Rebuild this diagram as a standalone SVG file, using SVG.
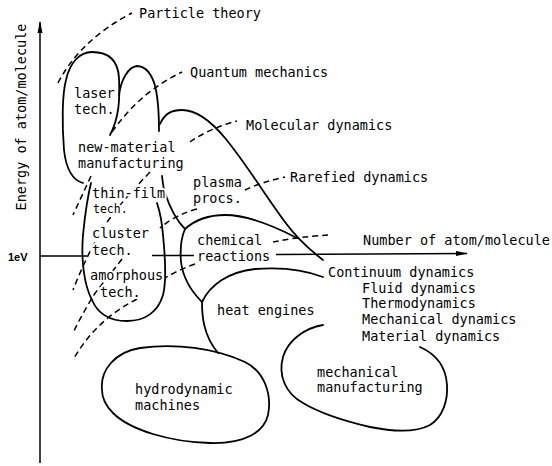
<svg xmlns="http://www.w3.org/2000/svg" width="552" height="466" viewBox="0 0 552 466">
<defs>
<marker id="arr" viewBox="0 0 12 6" refX="11" refY="3" markerWidth="12" markerHeight="6" markerUnits="userSpaceOnUse" orient="auto">
<path d="M0,0.5 L12,3 L0,5.5 Z" fill="#000"/>
</marker>
</defs>
<style>
.ln{fill:none;stroke:#000;stroke-width:1.8;stroke-linecap:round;stroke-linejoin:round}
.ds{fill:none;stroke:#000;stroke-width:1.5;stroke-dasharray:6 4}
.ax{fill:none;stroke:#000;stroke-width:1.5}
text{font-family:"DejaVu Sans Mono","Liberation Mono",monospace;font-size:13.5px;fill:#000;stroke:#fff;stroke-width:4;paint-order:stroke;stroke-linejoin:round}
.sm{font-size:11.5px}
.ev{font-family:"Liberation Sans",Arial,sans-serif;font-weight:bold;font-size:11px;stroke-width:0}
</style>
<g id="axes">
<line class="ax" x1="40" y1="463" x2="40" y2="22" marker-end="url(#arr)"/>
<line class="ax" x1="40" y1="256" x2="87" y2="256"/>
<line class="ax" x1="152" y1="255.5" x2="194" y2="255.5"/>
<line class="ax" x1="276" y1="254.5" x2="467" y2="253.5" marker-end="url(#arr)"/>
</g>
<g id="connectors">
<path class="ln" d="M83,183 C72,180 66,168 64,150 C62,125 62,95 66,80 C70,62 80,52 92,52 C108,52 118,60 119,78 C120,100 119,118 110,135"/>
<path class="ln" d="M119,95 C121,80 128,67 137,66 C146,66 153,75 156,90 C159,105 159,120 159,131"/>
<path class="ln" d="M162,176 C163,185 164,190 165,193 C169,205 176,220 185,229"/>
<path class="ln" d="M160,124 C165,113 172,110 182,110 C195,110 210,120 225,138 C245,162 265,195 285,222 C298,240 310,250 323,260"/>
<path class="ln" d="M185,229 C195,220 208,215 225,215 C248,215 272,225 297,238"/>
<path class="ln" d="M185,229 C181,238 180,250 181,262 C183,278 192,292 202,302 C202,315 203,335 218,353"/>
<path class="ln" d="M202,302 C210,285 228,272 255,269 C280,267 305,270 323,277"/>
<path class="ln" d="M91,183 C88,195 85,215 83,235 C81,260 84,285 92,300 C98,314 110,321 127,321 C145,321 158,312 163,295 C167,280 165,255 163,235 C162,222 160,212 157,203"/>
<path class="ds" d="M58,83 Q80,40 132,13"/>
<path class="ds" d="M112,132 Q140,92 182,72"/>
<path class="ds" d="M190,142 Q210,128 237,121"/>
<path class="ds" d="M245,190 Q262,182 285,177"/>
<path class="ds" d="M273,242 Q297,237 328,235"/>
<path class="ds" d="M197,209 Q175,215 160,228"/>
<path class="ds" d="M195,264 Q178,270 165,278"/>
<path class="ds" d="M91,176 L73,215"/>
<path class="ds" d="M150,172 C130,193 112,213 100,233 C90,250 80,272 73,290"/>
<path class="ds" d="M122,259 C110,275 98,288 92,298 C85,310 78,322 73,333"/>
<path class="ds" d="M137,299 C112,312 90,330 73,360"/>
</g>
<g id="hydrodynamic">
<path class="ln" d="M102,390 C100,370 115,352 140,348 C175,343 215,348 245,362 C265,372 272,395 268,415 C264,432 245,444 210,443 C170,442 130,430 113,413 C104,404 102,397 102,390 Z"/>
<text x="135" y="394">hydrodynamic</text>
<text x="135" y="410">machines</text>
</g>
<g id="mechanical">
<path class="ln" d="M323,325 C305,328 288,340 283,357 C278,375 285,393 303,403 C318,412 340,420 370,427 C390,431 415,433 430,425 C443,417 448,400 447,385 C446,368 438,355 420,347"/>
<text x="317" y="377">mechanical</text>
<text x="317" y="392">manufacturing</text>
</g>
<g id="laser"><text x="74" y="98">laser</text><text x="74" y="114">tech.</text></g>
<g id="newmaterial"><text x="78" y="152">new-material</text><text x="78" y="168">manufacturing</text></g>
<g id="thinfilm"><text x="92" y="198">thin-film</text><text class="sm" x="93" y="213">tech.</text></g>
<g id="cluster"><text x="92" y="238">cluster</text><text x="92" y="255">tech.</text></g>
<g id="amorphous"><text x="90" y="280">amorphous</text><text x="100" y="297">tech.</text></g>
<g id="plasma"><text x="193" y="187">plasma</text><text x="193" y="203">procs.</text></g>
<g id="chemical"><text x="197" y="245">chemical</text><text x="197" y="261">reactions</text></g>
<g id="heat"><text x="217" y="315">heat engines</text></g>
<g id="labels">
<text x="139" y="18">Particle theory</text>
<text x="190" y="77">Quantum mechanics</text>
<text x="246" y="130">Molecular dynamics</text>
<text x="290" y="182">Rarefied dynamics</text>
<text x="363" y="245">Number of atom/molecule</text>
<text x="328" y="277">Continuum dynamics</text>
<text x="362" y="293">Fluid dynamics</text>
<text x="362" y="308">Thermodynamics</text>
<text x="362" y="324">Mechanical dynamics</text>
<text x="362" y="341">Material dynamics</text>
<text class="ev" x="8" y="261">1eV</text>
<text x="0" y="0" text-anchor="middle" transform="translate(26,117) rotate(-90)">Energy of atom/molecule</text>
</g>
</svg>
